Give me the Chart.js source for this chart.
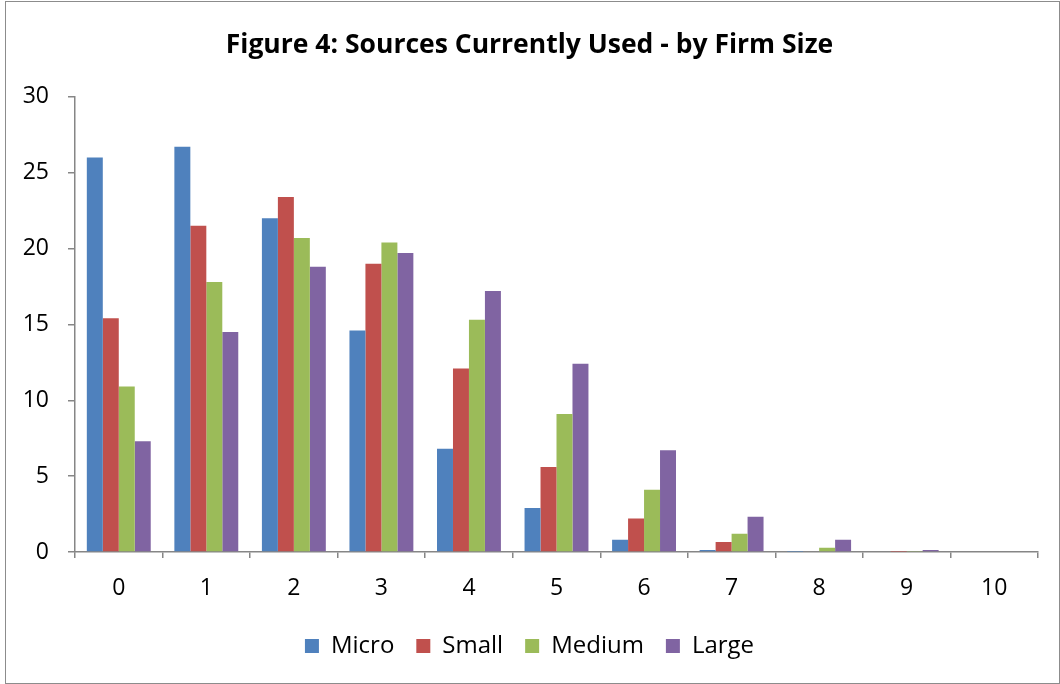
<!DOCTYPE html>
<html>
<head>
<meta charset="utf-8">
<script src="https://cdn.jsdelivr.net/npm/chart.js@4/dist/chart.umd.min.js"></script>
<style>
  html, body { margin: 0; padding: 0; background: #fff; }
  #wrap { position: relative; width: 1060px; height: 684px; }
  #frame { position: absolute; left: 5px; top: 1px; width: 1053px; height: 681px; border: 1px solid #8c8c8c; pointer-events: none; }
</style>
</head>
<body>
<div id="wrap">
  <canvas id="chart" width="1060" height="684"></canvas>
  <div id="frame"></div>
</div>
<script>
// number of sources used (0-10), share of firms in %
var categories = ["0", "1", "2", "3", "4", "5", "6", "7", "8", "9", "10"];
var micro  = [26.0, 26.7, 22.0, 14.6, 6.8, 2.9, 0.8, 0.13, 0.02, 0.0, 0.0];
var small  = [15.4, 21.5, 23.4, 19.0, 12.1, 5.6, 2.2, 0.66, 0.05, 0.01, 0.0];
var medium = [10.9, 17.8, 20.7, 20.4, 15.3, 9.1, 4.1, 1.2, 0.28, 0.07, 0.0];
var large  = [7.3, 14.5, 18.8, 19.7, 17.2, 12.4, 6.7, 2.33, 0.8, 0.13, 0.0];
var yTicks = [0, 5, 10, 15, 20, 25, 30];

var axisColor = "#868686";
var font = "'Open Sans', sans-serif";

function series(label, data, color) {
    return {
        label: label,
        data: data,
        backgroundColor: color,
        borderWidth: 0,
        categoryPercentage: 0.73,
        barPercentage: 1.0
    };
}

new Chart(document.getElementById("chart").getContext("2d"), {
    type: "bar",
    data: {
        labels: categories,
        datasets: [
            series("Micro", micro, "#4f81bd"),
            series("Small", small, "#c0504d"),
            series("Medium", medium, "#9bbb59"),
            series("Large", large, "#8064a2")
        ]
    },
    options: {
        responsive: false,
        animation: false,
        // left padding nudges title and legend to the right, y labels stay inside the scale box
        layout: { padding: { left: 21, right: 22, top: 0, bottom: 16 } },
        plugins: {
            title: {
                display: true,
                text: "Figure 4: Sources Currently Used - by Firm Size",
                color: "#000",
                font: { family: font, size: 26.5, weight: "bold", lineHeight: 1.2 },
                padding: { top: 30, bottom: 35 }
            },
            legend: {
                position: "bottom",
                labels: {
                    color: "#000",
                    font: { family: font, size: 24 },
                    boxWidth: 14,
                    boxHeight: 14,
                    padding: 22
                }
            },
            tooltip: { enabled: false }
        },
        scales: {
            x: {
                grid: { display: true, drawOnChartArea: false, tickLength: 6, color: axisColor, lineWidth: 1.5 },
                border: { color: axisColor, width: 1.5 },
                ticks: { color: "#000", font: { family: font, size: 23 }, padding: 17 },
                afterFit: function (scale) { scale.height = 60; }
            },
            y: {
                min: 0,
                max: 30,
                afterBuildTicks: function (scale) {
                    scale.ticks = yTicks.map(function (v) { return { value: v }; });
                },
                grid: { display: true, drawOnChartArea: false, tickLength: 7, color: axisColor, lineWidth: 1.5 },
                border: { color: axisColor, width: 1.5 },
                ticks: { color: "#000", font: { family: font, size: 23 }, padding: 19 },
                afterFit: function (scale) { scale.width = 54; }
            }
        }
    }
});
</script>
</body>
</html>
